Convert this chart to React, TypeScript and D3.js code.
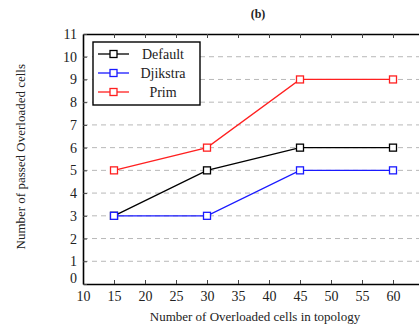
import React, { useEffect, useRef } from 'react';
import * as d3 from 'd3';

// data
const xValues = [15, 30, 45, 60];
const defaultValues = [3, 5, 6, 6];
const djikstraValues = [3, 3, 5, 5];
const primValues = [5, 6, 9, 9];
const seriesNames = ['Default', 'Djikstra', 'Prim'];
const seriesColors = ['#000000', '#1a1aff', '#ff2020'];
const xTicks = [10, 15, 20, 25, 30, 35, 40, 45, 50, 55, 60, 65];
const xLabelled = [10, 15, 20, 25, 30, 35, 40, 45, 50, 55, 60];
const yTicks = [0, 1, 2, 3, 4, 5, 6, 7, 8, 9, 10, 11];

const W = 419;
const H = 326;
const FONT = '"Liberation Serif", "DejaVu Serif", serif';

function Chart() {
    const ref = useRef<SVGSVGElement>(null);

    useEffect(() => {
        const svg = d3.select(ref.current);
        svg.selectAll('*').remove();

        const margins = { t: 34, l: 83, b: 42 };
        const xScale = d3.scaleLinear().domain([10, 65]).range([margins.l, 424]);
        const yScale = d3.scaleLinear().domain([0, 11]).range([H - margins.b, margins.t]);

        const all = [defaultValues, djikstraValues, primValues];

        // dashed grid
        svg.append('g').selectAll('line').data(yTicks.slice(1, -1)).join('line')
            .attr('x1', margins.l).attr('x2', W)
            .attr('y1', d => yScale(d)).attr('y2', d => yScale(d))
            .attr('stroke', '#b8b8b8').attr('stroke-width', 1)
            .attr('stroke-dasharray', '5,4');

        // axes: ticks pointing inward, the 65 label falls off the page so it is left blank
        const xAxis = d3.axisBottom(xScale).tickValues(xTicks).tickSize(-4).tickSizeOuter(0).tickPadding(7)
            .tickFormat((d: any) => xLabelled.includes(d) ? String(d) : '');
        const xTop = d3.axisTop(xScale).tickValues(xTicks).tickSize(-4).tickSizeOuter(0).tickFormat(() => '');
        const yAxis = d3.axisLeft(yScale).tickValues(yTicks).tickSize(-4).tickSizeOuter(0).tickPadding(6);

        const gx = svg.append('g').attr('transform', `translate(0,${yScale(0)})`).call(xAxis);
        const gt = svg.append('g').attr('transform', `translate(0,${yScale(11)})`).call(xTop);
        const gy = svg.append('g').attr('transform', `translate(${margins.l},0)`).call(yAxis);

        [gx, gt, gy].forEach(g => {
            g.select('.domain').attr('stroke', '#000').attr('stroke-width', 1.6);
            g.selectAll('.tick line').attr('stroke', '#444');
            g.selectAll('text').attr('font-family', FONT).attr('font-size', 14).attr('fill', '#222');
        });
        gy.selectAll('.tick').filter((d: any) => d === 0).select('text').attr('dy', '-0.1em');

        // series
        const line = d3.line<number>()
            .x((d, i) => xScale(xValues[i]))
            .y(d => yScale(d));

        all.forEach((vals, si) => {
            const g = svg.append('g');
            g.append('path').datum(vals)
                .attr('d', line)
                .attr('fill', 'none')
                .attr('stroke', seriesColors[si])
                .attr('stroke-width', 1.3);
            g.selectAll('rect').data(vals).join('rect')
                .attr('x', (d, i) => xScale(xValues[i]) - 3.5)
                .attr('y', d => yScale(d) - 3.5)
                .attr('width', 7).attr('height', 7)
                .attr('fill', '#fff')
                .attr('stroke', seriesColors[si])
                .attr('stroke-width', 1.3);
        });

        // legend
        const legend = svg.append('g');
        legend.append('rect')
            .attr('x', 93).attr('y', 42).attr('width', 107).attr('height', 63)
            .attr('fill', '#fff').attr('stroke', '#000').attr('stroke-width', 1.4);
        seriesNames.forEach((name, i) => {
            const y = 54 + i * 19;
            legend.append('line')
                .attr('x1', 98).attr('x2', 129).attr('y1', y).attr('y2', y)
                .attr('stroke', seriesColors[i]).attr('stroke-width', 1.3);
            legend.append('rect')
                .attr('x', 110).attr('y', y - 3.5).attr('width', 7).attr('height', 7)
                .attr('fill', '#fff').attr('stroke', seriesColors[i]).attr('stroke-width', 1.3);
            legend.append('text')
                .attr('x', 163).attr('y', y + 5)
                .attr('text-anchor', 'middle')
                .attr('font-family', FONT).attr('font-size', 14).attr('fill', '#222')
                .text(name);
        });

        // titles
        svg.append('text')
            .attr('x', 258).attr('y', 18).attr('text-anchor', 'middle')
            .attr('font-family', FONT).attr('font-size', 12).attr('font-weight', 'bold').attr('fill', '#222')
            .text('(b)');
        svg.append('text')
            .attr('x', 255).attr('y', 321).attr('text-anchor', 'middle')
            .attr('font-family', FONT).attr('font-size', 13).attr('fill', '#222')
            .text('Number of Overloaded cells in topology');
        svg.append('text')
            .attr('transform', `translate(25,${yScale(5.6)}) rotate(-90)`)
            .attr('text-anchor', 'middle')
            .attr('font-family', FONT).attr('font-size', 13).attr('fill', '#222')
            .text('Number of passed Overloaded cells');
    }, []);

    return <svg ref={ref} width={W} height={H} style={{ display: 'block', background: '#fff' }} />;
}

export default function App() {
    return (
        <div style={{ position: 'absolute', left: 0, top: 0 }}>
            <Chart />
        </div>
    );
}
